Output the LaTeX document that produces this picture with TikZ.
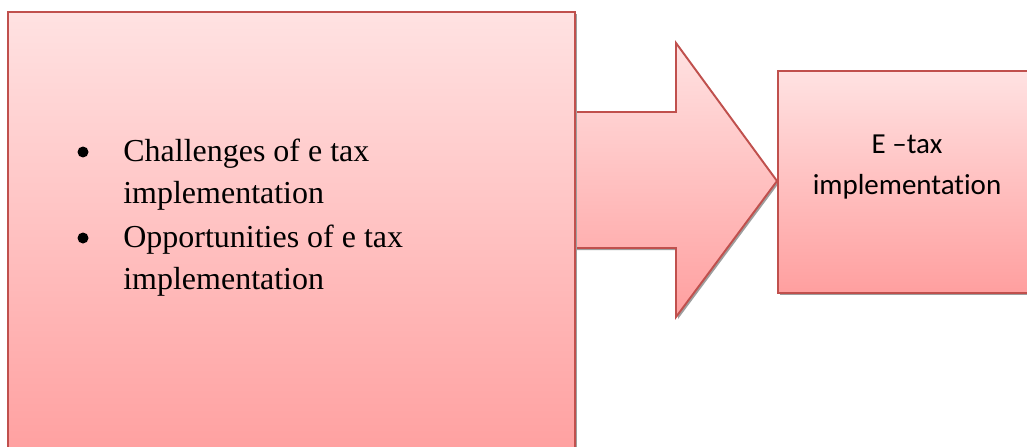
\documentclass[tikz,border=0pt]{standalone}
\usepackage{fontspec}
\setmainfont{Liberation Serif}
\newfontfamily\calibri[Ligatures=CommonOff]{Carlito}
\usetikzlibrary{positioning,calc,shadows}
\definecolor{boxline}{HTML}{C0504D}
\definecolor{pinktop}{HTML}{FFE2E2}
\definecolor{pinkbot}{HTML}{FF9F9F}

\begin{document}
\begin{tikzpicture}[
    x=0.02cm, y=-0.02cm,
    panel/.style={draw=boxline, line width=1.1pt, top color=pinktop, bottom color=pinkbot,
        drop shadow={shadow xshift=0.04cm, shadow yshift=-0.04cm, fill=black!38, opacity=1}},
    dot/.style={circle, fill=black, inner sep=0pt, minimum size=0.22cm},
    item/.style={anchor=base west, align=left, inner sep=0pt, font=\fontsize{18.2}{23.9}\selectfont},
    goaltext/.style={anchor=base, align=center, inner sep=0pt, font=\calibri\fontsize{16.5}{23.2}\selectfont},
]
\useasboundingbox[fill=white] (0,0) rectangle (1027,446);
\clip (0,0) rectangle (1027,446);

\coordinate (causes anchor) at (7,11);
\coordinate (goal anchor) at (777,70);

\draw[panel] (575,112) -- (676,112) -- (676,43) -- (777,181)
    -- (676,317) -- (676,248) -- (575,248);

\node[panel, anchor=north west, inner sep=0pt,
    minimum width=11.34cm, minimum height=8.98cm] (causes) at (causes anchor) {};
\node[panel, anchor=north west, inner sep=0pt,
    minimum width=5.3cm, minimum height=4.44cm] (goal) at (goal anchor) {};

\node[dot] (dot1) at (83,152) {};
\node[item] (challenges) at (123,203) {Challenges of e tax\\implementation};
\node[dot] (dot2) at (83,238) {};
\node[item] (opportunities) at (123,289) {Opportunities of e tax\\implementation};

\node[goaltext] (etax) at (907,194) {E –tax\\implementation};
\end{tikzpicture}
\end{document}
